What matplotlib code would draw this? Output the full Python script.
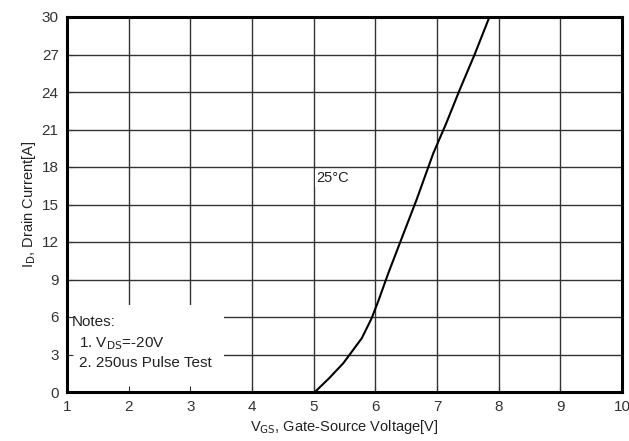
import numpy as np
import matplotlib.pyplot as plt
from matplotlib.patches import Rectangle

plt.rcParams.update({'font.family': ['Liberation Sans', 'DejaVu Sans'], 'font.size': 10})

# transfer curve
vgs = [5.02, 5.25, 5.48, 5.78, 5.94, 6.05, 6.21, 6.42, 6.67, 6.94, 7.15, 7.37, 7.61, 7.85]
i_d = [0.0, 1.1, 2.3, 4.3, 5.9, 7.3, 9.5, 12.2, 15.4, 19.1, 21.5, 24.2, 27.0, 30.0]

xticks = list(range(1, 11))
yticks = list(range(0, 31, 3))

fig = plt.figure(figsize=(6.29, 4.41), dpi=100)
ax = fig.add_axes([67/629, 1-392/441, 555/629, 375/441])

ax.set_xlim(1, 10)
ax.set_ylim(0, 30)
ax.set_xticks(xticks)
ax.set_yticks(yticks)
ax.set_axisbelow(False)  # ticks above the notes box
# grid drawn by hand so the notes box can cover it but not the ticks
ax.vlines(xticks, 0, 30, color='#333333', linewidth=1.0, zorder=1)
ax.hlines(yticks, 1, 10, color='#333333', linewidth=1.0, zorder=1)
ax.tick_params(direction='in', length=4, colors='#333333', labelsize=11, pad=6)
for s in ax.spines.values():
    s.set_linewidth(2.2)
    s.set_color('black')
    s.set_zorder(5)

ax.plot(vgs, i_d, color='black', linewidth=1.5, zorder=4)

ax.add_patch(Rectangle((1, 0), 2.55, 7.0, facecolor='white', edgecolor='none', zorder=2))
ax.text(1.08, 5.6, 'Notes:', fontsize=11, color='#222222', va='center', zorder=3)
ax.text(1.2, 3.9, '1. V$_{\\mathrm{DS}}$=-20V', fontsize=11, color='#222222', va='center', zorder=3)
ax.text(1.2, 2.3, '2. 250us Pulse Test', fontsize=11, color='#222222', va='center', zorder=3)

ax.text(5.04, 17.1, '25°C', fontsize=10.5, color='#222222', va='center', zorder=3,
        bbox=dict(facecolor='white', edgecolor='none', pad=1))

ax.set_xlabel('V$_{\\mathrm{GS}}$, Gate-Source Voltage[V]', fontsize=10.5, color='#222222', labelpad=3)
ax.set_ylabel('I$_{\\mathrm{D}}$, Drain Current[A]', fontsize=10.5, color='#222222', labelpad=3)

fig.savefig('out.png')
